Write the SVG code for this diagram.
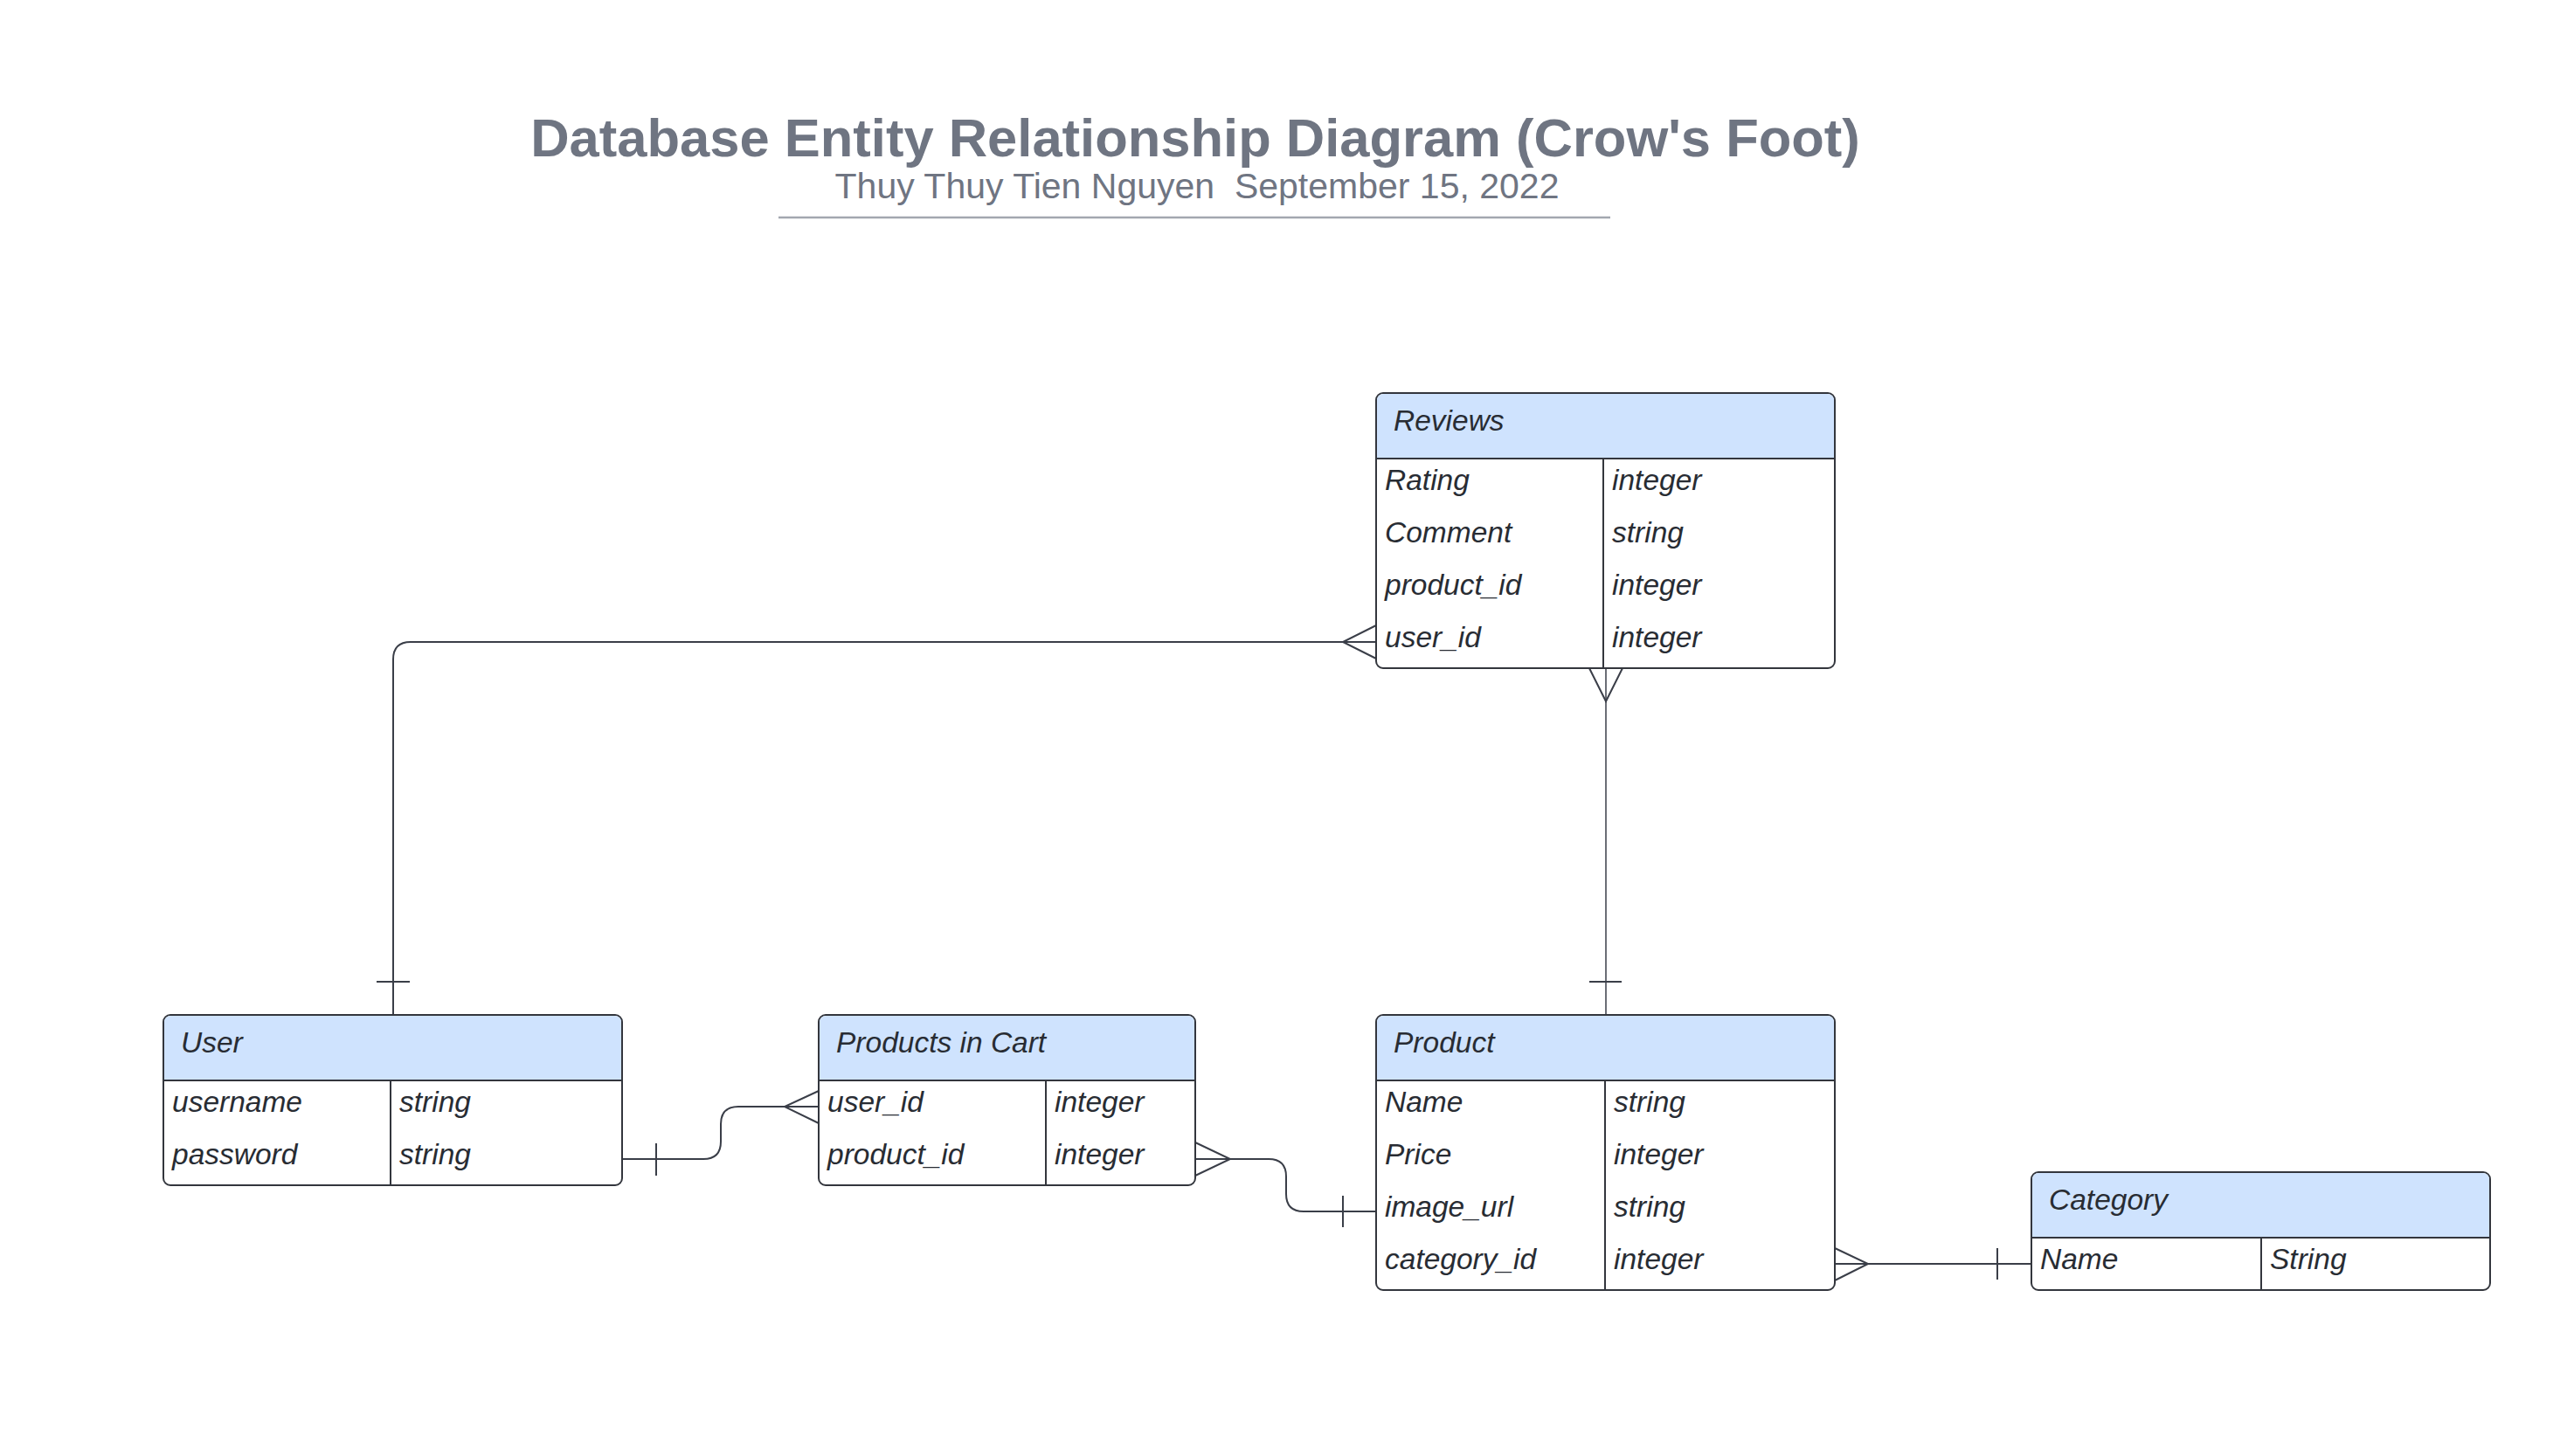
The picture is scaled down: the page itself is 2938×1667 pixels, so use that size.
<svg xmlns="http://www.w3.org/2000/svg" width="2938" height="1667" viewBox="0 0 2938 1667">
<style>
.title{font-family:"Liberation Sans",Arial,sans-serif;font-weight:bold;font-size:61.5px;fill:#6f7582}
.sub{font-family:"Liberation Sans",Arial,sans-serif;font-size:41px;fill:#6f7582}
.box{fill:#ffffff;stroke:#33363d;stroke-width:2}
.hdr{fill:#cfe3fe;stroke:none}
.sep{stroke:#33363d;stroke-width:2;fill:none}
.t{font-family:"Liberation Sans",Arial,sans-serif;font-style:italic;font-size:33.5px;fill:#282c33}
.c{stroke:#3a3e48;stroke-width:2;fill:none}
.thin{stroke:#3a3e48;stroke-width:1.5;fill:none}
</style>
<rect width="2938" height="1667" fill="#ffffff"/>
<g id="title">
<text class="title" x="1368" y="179" text-anchor="middle">Database Entity Relationship Diagram (Crow's Foot)</text>
<text class="sub" x="1370" y="227" text-anchor="middle" xml:space="preserve">Thuy Thuy Tien Nguyen  September 15, 2022</text>
<line x1="891" y1="249" x2="1843" y2="249" stroke="#a3a7b0" stroke-width="2.5"/>
</g>
<g id="connectors">
<path class="c" d="M450,1162 V755 Q450,735 470,735 H1575"/>
<path class="c" d="M431,1124 H469"/>
<path class="c" d="M1575,716 L1537,735 L1575,754"/>
<path class="thin" d="M1838,765 V1162"/>
<path class="c" d="M1819,765 L1838,803 L1857,765"/>
<path class="c" d="M1819,1124 H1856"/>
<path class="c" d="M712,1327 H805 Q825,1327 825,1307 V1287 Q825,1267 845,1267 H937"/>
<path class="c" d="M751,1309 V1346"/>
<path class="c" d="M937,1249 L898,1267 L937,1286"/>
<path class="c" d="M1368,1327 H1452 Q1472,1327 1472,1347 V1367 Q1472,1387 1492,1387 H1575"/>
<path class="c" d="M1368,1308 L1408,1327 L1368,1346"/>
<path class="c" d="M1537,1369 V1405"/>
<path class="c" d="M2100,1447 H2325"/>
<path class="c" d="M2100,1429 L2138,1447 L2100,1466"/>
<path class="c" d="M2286,1429 V1465"/>
</g>
<g id="reviews">
<rect class="box" x="1575" y="450" width="525" height="315" rx="8"/>
<path class="hdr" d="M1576,525 V459 Q1576,451 1584,451 H2091 Q2099,451 2099,459 V525 Z"/>
<path class="sep" d="M1575,525 H2100 M1835,525 V765"/>
<text class="t" x="1595" y="493">Reviews</text>
<text class="t" x="1585" y="561">Rating</text>
<text class="t" x="1845" y="561">integer</text>
<text class="t" x="1585" y="621">Comment</text>
<text class="t" x="1845" y="621">string</text>
<text class="t" x="1585" y="681">product_id</text>
<text class="t" x="1845" y="681">integer</text>
<text class="t" x="1585" y="741">user_id</text>
<text class="t" x="1845" y="741">integer</text>
</g>
<g id="user">
<rect class="box" x="187" y="1162" width="525" height="195" rx="8"/>
<path class="hdr" d="M188,1237 V1171 Q188,1163 196,1163 H703 Q711,1163 711,1171 V1237 Z"/>
<path class="sep" d="M187,1237 H712 M447,1237 V1357"/>
<text class="t" x="207" y="1205">User</text>
<text class="t" x="197" y="1273">username</text>
<text class="t" x="457" y="1273">string</text>
<text class="t" x="197" y="1333">password</text>
<text class="t" x="457" y="1333">string</text>
</g>
<g id="products-in-cart">
<rect class="box" x="937" y="1162" width="431" height="195" rx="8"/>
<path class="hdr" d="M938,1237 V1171 Q938,1163 946,1163 H1359 Q1367,1163 1367,1171 V1237 Z"/>
<path class="sep" d="M937,1237 H1368 M1197,1237 V1357"/>
<text class="t" x="957" y="1205">Products in Cart</text>
<text class="t" x="947" y="1273">user_id</text>
<text class="t" x="1207" y="1273">integer</text>
<text class="t" x="947" y="1333">product_id</text>
<text class="t" x="1207" y="1333">integer</text>
</g>
<g id="product">
<rect class="box" x="1575" y="1162" width="525" height="315" rx="8"/>
<path class="hdr" d="M1576,1237 V1171 Q1576,1163 1584,1163 H2091 Q2099,1163 2099,1171 V1237 Z"/>
<path class="sep" d="M1575,1237 H2100 M1837,1237 V1477"/>
<text class="t" x="1595" y="1205">Product</text>
<text class="t" x="1585" y="1273">Name</text>
<text class="t" x="1847" y="1273">string</text>
<text class="t" x="1585" y="1333">Price</text>
<text class="t" x="1847" y="1333">integer</text>
<text class="t" x="1585" y="1393">image_url</text>
<text class="t" x="1847" y="1393">string</text>
<text class="t" x="1585" y="1453">category_id</text>
<text class="t" x="1847" y="1453">integer</text>
</g>
<g id="category">
<rect class="box" x="2325" y="1342" width="525" height="135" rx="8"/>
<path class="hdr" d="M2326,1417 V1351 Q2326,1343 2334,1343 H2841 Q2849,1343 2849,1351 V1417 Z"/>
<path class="sep" d="M2325,1417 H2850 M2588,1417 V1477"/>
<text class="t" x="2345" y="1385">Category</text>
<text class="t" x="2335" y="1453">Name</text>
<text class="t" x="2598" y="1453">String</text>
</g>
</svg>
